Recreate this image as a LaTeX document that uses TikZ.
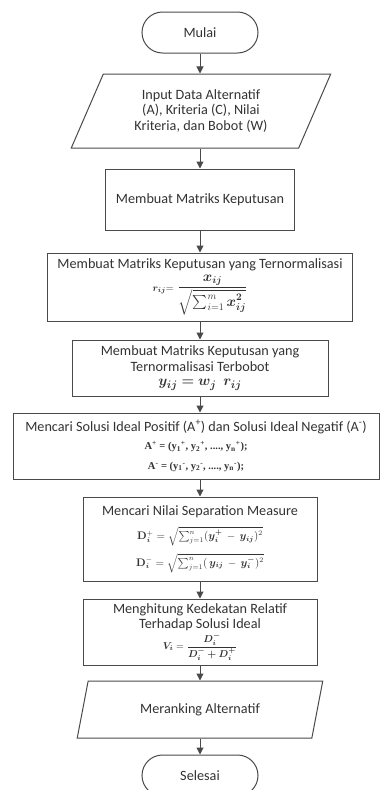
\documentclass[tikz,border=0pt]{standalone}
\usepackage{amsmath,amssymb,bm}
\usepackage[no-math]{fontspec}
\setmainfont{Carlito}
\newfontfamily\serifb{Liberation Serif}
\usetikzlibrary{shapes.misc,shapes.geometric,arrows.meta}
\definecolor{ln}{HTML}{4A4A4A}
\definecolor{tx}{HTML}{333333}
\tikzset{
  basefont/.style={font=\fontsize{14.2}{15.5}\selectfont},
  boxnode/.style={draw=ln, line width=1pt, rectangle, align=center, inner sep=0pt, text=tx, basefont},
  termnode/.style={draw=ln, line width=1pt, rounded rectangle, minimum width=116pt, minimum height=41pt, inner sep=0pt, text=tx, basefont},
  ionode/.style={draw=ln, line width=1pt, trapezium, trapezium stretches=true, align=center, inner sep=0pt, text=tx, basefont},
  arr/.style={draw=ln, line width=1pt, -{Triangle[width=7pt,length=7pt]}}
}
\begin{document}
\begin{tikzpicture}[x=1pt,y=-1pt]
\useasboundingbox (0,0) rectangle (380,790);
\clip (0,0) rectangle (380,790);
\fill[white] (0,0) rectangle (380,790);

\node[termnode] (mulai) at (200,32.5) {Mulai};

\node[ionode, trapezium left angle=63, trapezium right angle=117, minimum width=260pt, minimum height=74pt] (input) at (201,111)
  {Input Data Alternatif\\(A), Kriteria (C), Nilai\\Kriteria, dan Bobot (W)};

\node[boxnode, minimum width=189pt, minimum height=61pt] (mk) at (200,199.5) {Membuat Matriks Keputusan};

\node[boxnode, minimum width=305pt, minimum height=68pt] (norm) at (200,287)
  {Membuat Matriks Keputusan yang Ternormalisasi\\[3pt]
   {\fontsize{14}{15}\selectfont $\scriptstyle \bm{r_{ij}} =\displaystyle \frac{\bm{x_{ij}}}{\sqrt{\textstyle\sum\nolimits_{i=1}^{m}\bm{x_{ij}^{2}}}}$}};

\node[boxnode, minimum width=256pt, minimum height=56pt] (terb) at (200,368)
  {Membuat Matriks Keputusan yang\\Ternormalisasi Terbobot\\[-1pt]
   {\fontsize{15}{16}\selectfont $\bm{y_{ij} = w_j\ \ r_{ij}}$}};

\node[boxnode, minimum width=366pt, minimum height=66pt] (ideal) at (196,446)
  {Mencari Solusi Ideal Positif (A\textsuperscript{+}) dan Solusi Ideal Negatif (A\textsuperscript{-})\\[3pt]
   {\serifb\bfseries\fontsize{10.5}{12}\selectfont A\textsuperscript{+} = (y\textsubscript{1}\textsuperscript{+}, y\textsubscript{2}\textsuperscript{+}, ...., y\textsubscript{n}\textsuperscript{+});}\\[4pt]
   {\serifb\bfseries\fontsize{10.5}{12}\selectfont A\textsuperscript{-} = (y\textsubscript{1}\textsuperscript{-}, y\textsubscript{2}\textsuperscript{-}, ...., y\textsubscript{n}\textsuperscript{-});}};

\node[boxnode, minimum width=234pt, minimum height=84pt] (sep) at (200,539)
  {Mencari Nilai Separation Measure\\[9pt]
   {\fontsize{10.5}{12}\selectfont $\mathbf{D}_{\bm{i}}^{+} = \sqrt{\textstyle\sum\nolimits_{j=1}^{n}(\bm{y_i^{+}} \,-\, \bm{y_{ij}})^2}$}\\[6pt]
   {\fontsize{10.5}{12}\selectfont $\mathbf{D}_{\bm{i}}^{-} = \sqrt{\textstyle\sum\nolimits_{j=1}^{n}(\,\bm{y_{ij}} \,-\, \bm{y_i^{-}})^2}$}};

\node[boxnode, minimum width=234pt, minimum height=66pt] (rel) at (200,632)
  {Menghitung Kedekatan Relatif\\Terhadap Solusi Ideal\\[1pt]
   {\fontsize{10}{11}\selectfont $\bm{V_i} = \dfrac{\bm{D_i^{-}}}{\bm{D_i^{-} + D_i^{+}}}$}};

\node[ionode, trapezium left angle=64.6, trapezium right angle=115.4, minimum width=246pt, minimum height=57pt] (rank) at (200,709.5)
  {Meranking Alternatif};

\node[termnode] (selesai) at (200,775.5) {Selesai};

\draw[arr] (mulai.south) -- (mulai.south |- input.north);
\draw[arr] (input.south -| mk.north) -- (mk.north);
\draw[arr] (mk.south) -- (mk.south |- norm.north);
\draw[arr] (norm.south) -- (norm.south |- terb.north);
\draw[arr] (terb.south) -- (terb.south |- ideal.north);
\draw[arr] (sep.north |- ideal.south) -- (sep.north);
\draw[arr] (sep.south) -- (sep.south |- rel.north);
\draw[arr] (rel.south) -- (rel.south |- rank.north);
\draw[arr] (rank.south) -- (rank.south |- selesai.north);
\end{tikzpicture}
\end{document}
